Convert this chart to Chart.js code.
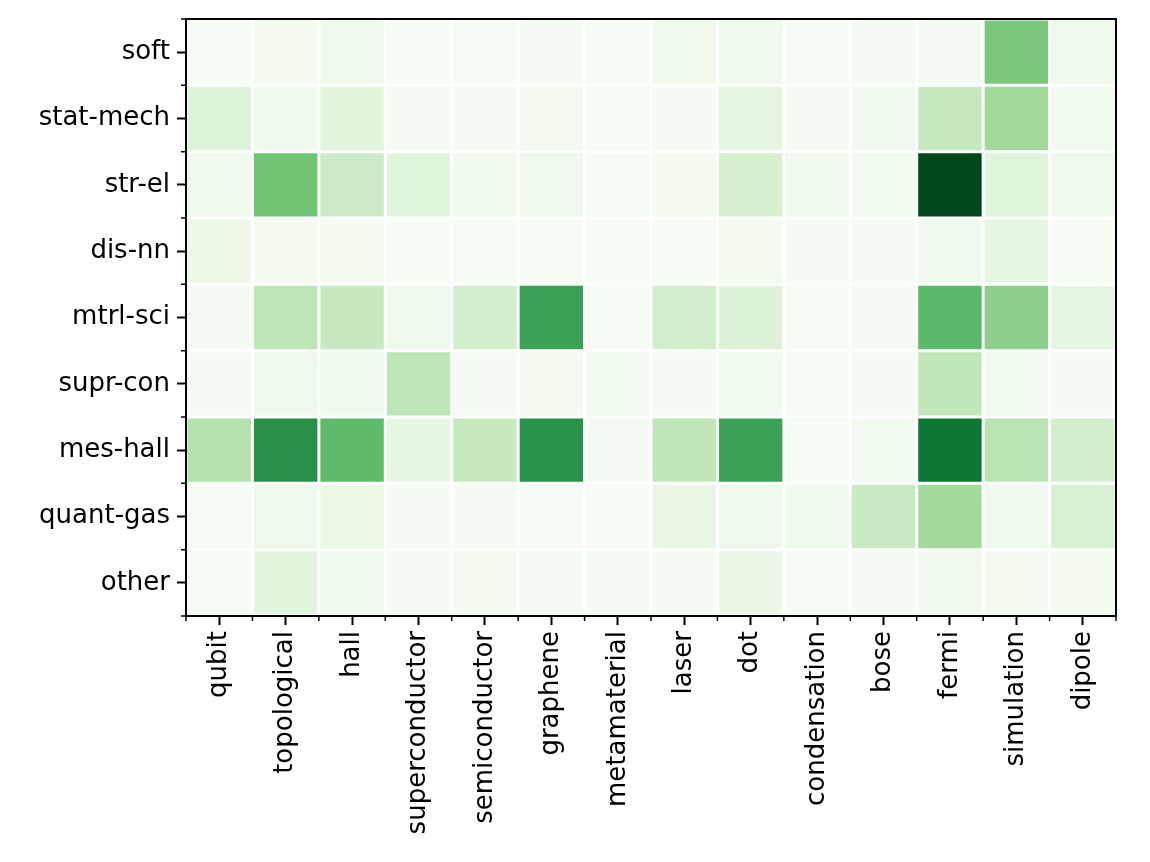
<!DOCTYPE html>
<html><head><meta charset="utf-8">
<script src="https://cdn.jsdelivr.net/npm/chart.js@4/dist/chart.umd.min.js"></script>
<style>html,body{margin:0;padding:0;background:#fff}#wrap{width:1150px;height:862px}</style>
</head><body><div id="wrap"><canvas id="c"></canvas></div>
<script>
const columns = ["qubit","topological","hall","superconductor","semiconductor","graphene","metamaterial","laser","dot","condensation","bose","fermi","simulation","dipole"];
const rows = ["soft","stat-mech","str-el","dis-nn","mtrl-sci","supr-con","mes-hall","quant-gas","other"];

const soft     = [0, 3, 6, 0, 1, 2, 1, 6, 6, 1, 2, 2, 48, 6];
const statMech = [15, 5, 13, 2, 2, 3, 1, 2, 12, 2, 5, 25, 37, 4];
const strEl    = [5, 50, 23, 14, 5, 6, 1, 3, 19, 5, 4, 99, 14, 6];
const disNn    = [7, 3, 3, 0, 1, 1, 1, 1, 3, 2, 2, 5, 11, 1];
const mtrlSci  = [2, 28, 25, 6, 20, 66, 1, 20, 16, 1, 2, 56, 43, 12];
const suprCon  = [2, 6, 5, 28, 2, 3, 4, 2, 4, 1, 2, 27, 4, 2];
const mesHall  = [31, 73, 55, 11, 25, 72, 2, 27, 66, 1, 4, 83, 29, 20];
const quantGas = [1, 6, 7, 2, 2, 1, 1, 10, 6, 5, 24, 37, 5, 18];
const other    = [1, 13, 5, 2, 3, 2, 2, 2, 9, 1, 2, 5, 3, 3];

const rowValues = [soft, statMech, strEl, disNn, mtrlSci, suprCon, mesHall, quantGas, other];

const GREENS = ["#f7fcf5","#e5f5e0","#c7e9c0","#a1d99b","#74c476","#41ab5d","#238b45","#006d2c","#00441b"];
function hex(h){return [parseInt(h.slice(1,3),16),parseInt(h.slice(3,5),16),parseInt(h.slice(5,7),16)];}
function greens(t){
  t = Math.max(0, Math.min(1, t));
  const p = t * (GREENS.length - 1);
  const i = Math.min(Math.floor(p), GREENS.length - 2);
  const f = p - i;
  const a = hex(GREENS[i]), b = hex(GREENS[i+1]);
  const c = a.map((v,k)=>Math.round(v + (b[k]-v)*f));
  return `rgb(${c[0]},${c[1]},${c[2]})`;
}
const vmin = 0, vmax = 100;

const datasets = rowValues.map((vals, r) => ({
  label: rows[r],
  data: vals.map(() => [r, r + 1]),
  backgroundColor: vals.map(v => greens((v - vmin) / (vmax - vmin))),
  borderColor: '#ffffff',
  borderWidth: 1.5,
  borderSkipped: false,
  inflateAmount: 0,
  grouped: false,
  categoryPercentage: 1,
  barPercentage: 1
}));

const FONT = {family: 'DejaVu Sans', size: 26};

const framePlugin = {
  id: 'frame',
  afterDraw(chart){
    const {ctx, chartArea: a, scales} = chart;
    const xs = scales.x, ys = scales.y;
    ctx.save();
    ctx.strokeStyle = '#000';
    ctx.lineWidth = 1.5;
    ctx.beginPath();
    for (let j = 0; j <= columns.length; j++) {
      const px = xs.getPixelForValue(j - 0.5);
      ctx.moveTo(px, a.bottom); ctx.lineTo(px, a.bottom + 5);
    }
    for (let i = 0; i <= rows.length; i++) {
      const py = ys.getPixelForValue(i);
      ctx.moveTo(a.left, py); ctx.lineTo(a.left - 5, py);
    }
    ctx.stroke();
    ctx.lineWidth = 2;
    ctx.strokeRect(a.left, a.top, a.right - a.left, a.bottom - a.top);
    ctx.restore();
  }
};

new Chart(document.getElementById('c'), {
  type: 'bar',
  data: {labels: columns, datasets},
  options: {
    responsive: true,
    maintainAspectRatio: false,
    animation: false,
    layout: {padding: {left: 0, right: 34, top: 19, bottom: 0}},
    plugins: {legend: {display: false}, tooltip: {enabled: false}},
    scales: {
      x: {
        type: 'category',
        offset: true,
        grid: {display: true, drawOnChartArea: false, offset: false, tickLength: 9, tickWidth: 2, tickColor: '#000'},
        border: {display: false},
        ticks: {minRotation: 90, maxRotation: 90, autoSkip: false, padding: 6, font: FONT, color: '#000'},
        afterFit(s){ s.height = 862 - 616; s.paddingLeft = 0; s.paddingRight = 0; }
      },
      y: {
        type: 'linear',
        min: 0, max: rows.length,
        reverse: true,
        grid: {display: true, drawOnChartArea: false, tickLength: 9, tickWidth: 2, tickColor: '#000'},
        border: {display: false},
        afterBuildTicks(s){ s.ticks = rows.map((_, i) => ({value: i + 0.5})); },
        ticks: {padding: 7, font: FONT, color: '#000', callback: v => rows[Math.floor(v)]},
        afterFit(s){ s.width = 186; s.paddingTop = 0; s.paddingBottom = 0; }
      }
    }
  },
  plugins: [framePlugin]
});
</script>
</body></html>
